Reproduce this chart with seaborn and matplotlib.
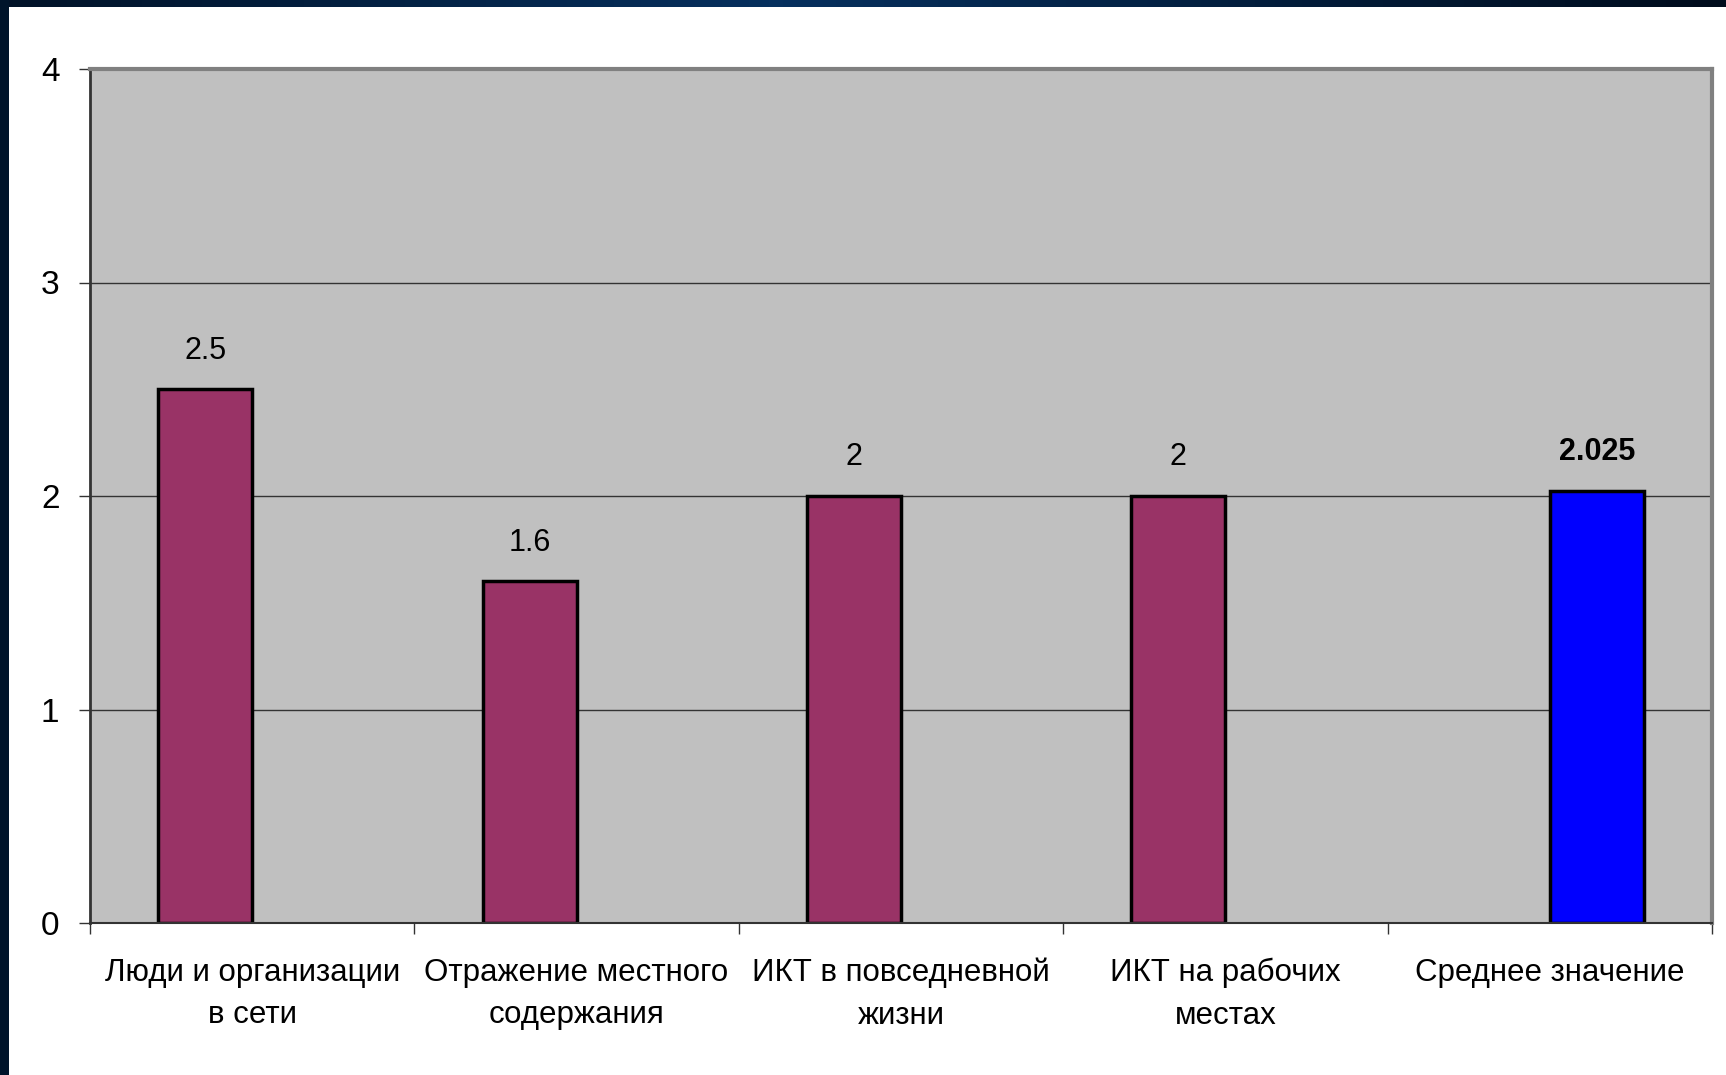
import numpy as np
import pandas as pd
import seaborn as sns
import matplotlib.pyplot as plt
from matplotlib.ticker import FixedLocator

# данные
categories = ["Люди и организации\nв сети", "Отражение местного\nсодержания",
              "ИКТ в повседневной\nжизни", "ИКТ на рабочих\nместах", "Среднее значение"]
series_names = ["Показатели", "Среднее"]
values_main = [2.5, 1.6, 2, 2]
value_mean = [2.025]
label_main = ["2.5", "1.6", "2", "2"]
label_mean = ["2.025"]

tabela = pd.DataFrame({
    "categoria": categories[:4] + categories[4:],
    "serie": [series_names[0]] * 4 + [series_names[1]],
    "valor": values_main + value_mean,
})

sns.set_theme(style="white")
plt.rcParams["font.family"] = ["Liberation Sans", "DejaVu Sans"]

fig = plt.figure(figsize=(17.26, 10.75), dpi=100)
fig.patch.set_facecolor("white")

# тёмная рамка слайда (слева и сверху)
top = fig.add_axes([0, 1 - 7 / 1075, 1, 7 / 1075])
grad = np.linspace(0, 1, 256)
grad = 1 - np.abs(grad - 0.45) * 1.6
top.imshow(grad[np.newaxis, :], aspect="auto", cmap=sns.blend_palette(["#000c1c", "#06305e"], as_cmap=True))
top.axis("off")
left = fig.add_axes([0, 0, 8 / 1726, 1])
left.imshow(np.full((10, 1), 0.1), aspect="auto", cmap=sns.blend_palette(["#001226", "#06305e"], as_cmap=True),
            vmin=0, vmax=1)
left.axis("off")

ax = fig.add_axes([90 / 1726, 1 - 923 / 1075, (1712 - 90) / 1726, (923 - 69) / 1075])
ax.set_facecolor("#C0C0C0")
ax.set_axisbelow(True)
ax.yaxis.grid(True, color="#333333", linewidth=1)

sns.barplot(data=tabela, x="categoria", y="valor", hue="serie", order=categories,
            hue_order=series_names, palette=["#993366", "#0000FF"], saturation=1, width=0.58,
            dodge=True, edgecolor="black", linewidth=2.5, legend=False, ax=ax)

ax.set_ylim(0, 4)
ax.set_xlim(-0.5, len(categories) - 0.5)
ax.set_yticks(range(5))
ax.set_xlabel("")
ax.set_ylabel("")

# подписи значений
for i, (cont, lbls) in enumerate(zip(ax.containers, [label_main, label_mean])):
    bold = "bold" if i == 1 else "normal"
    ax.bar_label(cont, labels=lbls, padding=17, fontsize=22, fontweight=bold, color="black")

ax.tick_params(axis="y", which="major", left=True, length=8, width=1, color="#333333",
               pad=14, labelsize=24, labelcolor="black")
ax.tick_params(axis="x", which="major", bottom=False, pad=19, labelsize=22.5, labelcolor="black")
ax.xaxis.set_minor_locator(FixedLocator(np.arange(-0.5, len(categories), 1.0)))
ax.tick_params(axis="x", which="minor", bottom=True, length=8, width=1, color="#333333")
for t in ax.get_xticklabels():
    t.set_linespacing(1.55)
    t.set_ha("center")

for side in ["top", "right"]:
    ax.spines[side].set_color("#808080")
    ax.spines[side].set_linewidth(3)
ax.spines["left"].set_color("#333333")
ax.spines["left"].set_linewidth(2)
ax.spines["bottom"].set_color("#333333")
ax.spines["bottom"].set_linewidth(1.5)

fig.savefig("out.png", dpi=100)
